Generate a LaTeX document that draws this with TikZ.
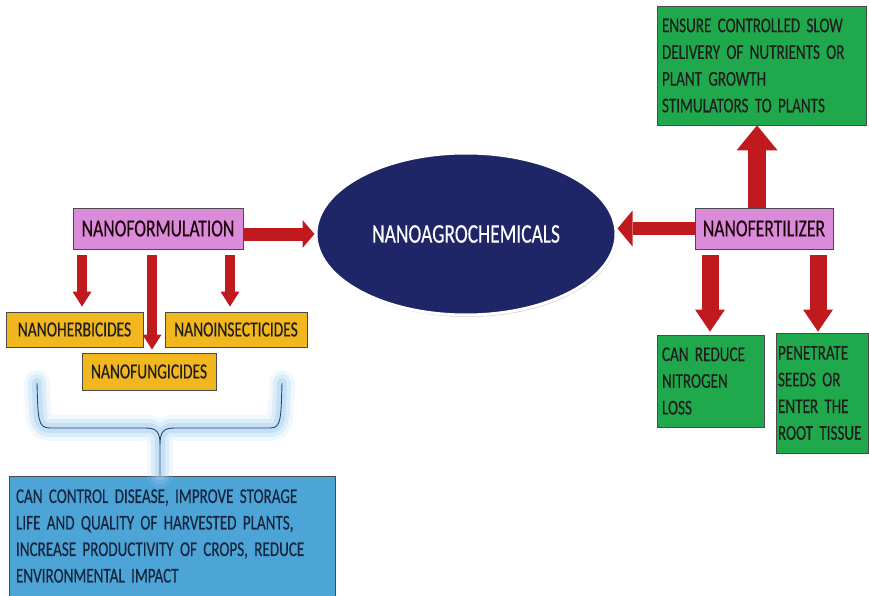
\documentclass[tikz,border=0pt]{standalone}
\usepackage{fontspec}
\setmainfont[FakeStretch=0.72,FakeBold=0.35]{Carlito}
\usetikzlibrary{shapes.geometric,arrows.meta,shadows}
\hyphenpenalty=10000
\exhyphenpenalty=10000
\definecolor{pinkbox}{HTML}{DA8BDA}
\definecolor{yellowbox}{HTML}{F2B61E}
\definecolor{greenbox}{HTML}{1FA84C}
\definecolor{bluebox}{HTML}{4DA4D7}
\definecolor{navyell}{HTML}{1F2668}
\definecolor{arrowred}{HTML}{C01A1E}
\definecolor{boxedge}{HTML}{4A4A4A}
\definecolor{bracecol}{HTML}{2F4866}
\definecolor{glowcol}{HTML}{9FCDF2}
\definecolor{txtdark}{HTML}{1E1E1E}
\definecolor{txtblue}{HTML}{16263F}
\tikzset{
  tightspace/.style={execute at begin node={\spaceskip=0.3em plus 0.1em\relax}},
  box/.style={draw=boxedge, line width=0.8pt, inner sep=0pt, text=txtdark, tightspace},
  pinkb/.style={box, fill=pinkbox, text=black!85!purple, font=\fontsize{24.5}{28}\selectfont},
  yellowb/.style={box, fill=yellowbox, font=\fontsize{21.5}{24}\selectfont},
  greenb/.style={box, fill=greenbox, align=left, font=\fontsize{21}{26.7}\selectfont},
  blueb/.style={box, fill=bluebox, text=txtblue, align=left, font=\fontsize{21}{26.5}\selectfont},
  barrow/.style n args={3}{draw=arrowred, line width=#1,
     -{Triangle[width=#2,length=#3,line width=0pt]}},
}
\begin{document}
\begin{tikzpicture}[x=1pt,y=-1pt]
\useasboundingbox (0,0) rectangle (869,596);

% central ellipse
\node[ellipse, minimum width=300pt, minimum height=162pt, inner sep=0pt,
      fill=navyell, draw=white, line width=3pt, text=white,
      drop shadow={opacity=0.35, shadow xshift=1pt, shadow yshift=-2pt},
      font=\fontsize{27}{30}\selectfont] (ell) at (466,234) {NANOAGROCHEMICALS};

% left side
\node[pinkb, minimum width=170pt, minimum height=41pt] (nf) at (158,228.5) {NANOFORMULATION};
\node[yellowb, minimum width=137pt, minimum height=35pt] (herb) at (74.5,329.5) {NANOHERBICIDES};
\node[yellowb, minimum width=142pt, minimum height=35pt] (insect) at (236,329.5) {NANOINSECTICIDES};
\node[yellowb, minimum width=134pt, minimum height=37pt] (fung) at (149,371.5) {NANOFUNGICIDES};
\node[blueb, minimum width=326pt, minimum height=120pt, text width=312pt] (blue) at (172,536)
  {CAN CONTROL DISEASE, IMPROVE STORAGE\\LIFE AND QUALITY OF HARVESTED PLANTS,\\INCREASE PRODUCTIVITY OF CROPS, REDUCE\\ENVIRONMENTAL IMPACT};

% right side
\node[pinkb, minimum width=138pt, minimum height=41pt] (nfert) at (764,228.5) {NANOFERTILIZER};
\node[greenb, minimum width=209pt, minimum height=119pt, text width=199pt] (top) at (761.5,65.5)
  {ENSURE CONTROLLED SLOW\\DELIVERY OF NUTRIENTS OR\\PLANT GROWTH\\STIMULATORS TO PLANTS};
\node[greenb, minimum width=107pt, minimum height=92pt, text width=97pt] (red) at (710.5,381)
  {CAN REDUCE\\NITROGEN\\LOSS};
\node[greenb, minimum width=92pt, minimum height=120pt, text width=88pt] (pen) at (822,393)
  {PENETRATE\\SEEDS OR\\ENTER THE\\ROOT TISSUE};

% arrows left
\draw[barrow={13pt}{28pt}{12pt}] (nf.east |- ell.west) -- (ell.west);
\draw[barrow={10pt}{19pt}{15pt}] ([xshift=-76pt,yshift=-6pt]nf.south) -- ([xshift=-76pt,yshift=5pt]nf.south |- herb.north);
\draw[barrow={10pt}{19pt}{15pt}] ([xshift=-6pt,yshift=-6pt]nf.south) -- ([xshift=-6pt,yshift=3pt]nf.south |- fung.north);
\draw[barrow={10pt}{19pt}{15pt}] ([xshift=72pt,yshift=-6pt]nf.south) -- ([xshift=72pt,yshift=5pt]nf.south |- insect.north);

% arrows right
\draw[barrow={13pt}{36pt}{15pt}] (nfert.west) -- (ell.east |- nfert.west);
\draw[barrow={18pt}{41pt}{25pt}] ([xshift=-7pt]nfert.north) -- ([xshift=-7pt]nfert.north |- top.south);
\draw[barrow={17pt}{30pt}{22pt}] ([xshift=-54pt,yshift=-6pt]nfert.south) -- ([xshift=-54pt,yshift=3pt]nfert.south |- red.north);
\draw[barrow={17pt}{30pt}{22pt}] ([xshift=54pt,yshift=-6pt]nfert.south) -- ([xshift=54pt,yshift=3pt]nfert.south |- red.north);

% brace with glow
\coordinate (bl) at (37,383);
\coordinate (br) at (282,383);
\coordinate (stem) at ([xshift=-12pt]blue.north);
\draw[bracecol, line width=0.9pt, line join=round,
      preaction={draw=glowcol, line width=26pt, opacity=0.15, line cap=round, line join=round},
      preaction={draw=glowcol, line width=18pt, opacity=0.25, line cap=round, line join=round},
      preaction={draw=glowcol, line width=10pt, opacity=0.4, line cap=round, line join=round}]
  (bl) .. controls (38,420) and (38,428) .. (50,428) -- (145,428)
       .. controls (157,428) and (160,432) .. (160,445) -- (stem)
  (br) .. controls (281,420) and (281,428) .. (270,428) -- (175,428)
       .. controls (163,428) and (160,432) .. (160,445);
\end{tikzpicture}
\end{document}
